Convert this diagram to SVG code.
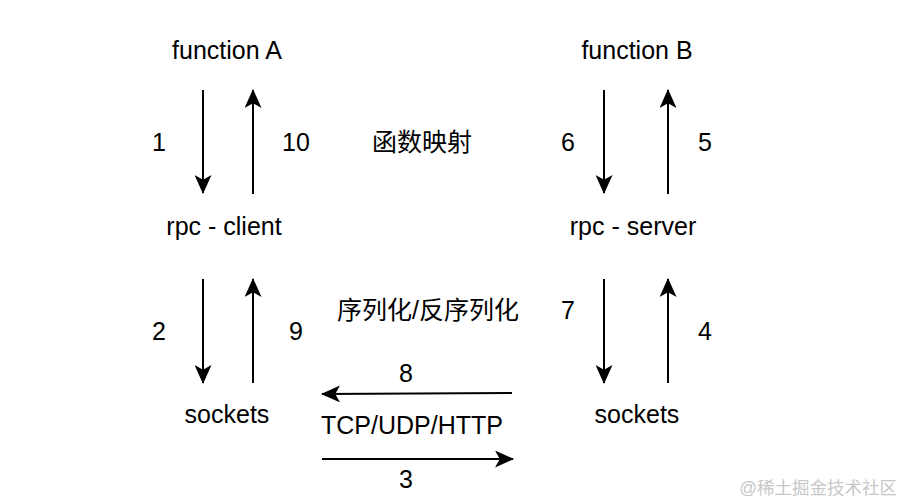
<svg xmlns="http://www.w3.org/2000/svg" width="903" height="504" viewBox="0 0 903 504">
<defs>
<style>
text{font-family:"Liberation Sans","Noto Sans CJK SC",Arial,sans-serif;font-size:25px;fill:#000;text-anchor:middle}
.wm{font-size:17.5px;fill:#c8c8c8;text-anchor:end}
.edge{stroke:#000;stroke-width:2;fill:none;marker-end:url(#arr)}
</style>
<marker id="arr" markerUnits="userSpaceOnUse" markerWidth="19" markerHeight="17" refX="18" refY="8.5" orient="auto" viewBox="0 0 19 17">
<path d="M0,0 L19,8.5 L0,17 L4.75,8.5 Z" fill="#000"/>
</marker>
</defs>
<rect width="903" height="504" fill="#fff"/>
<g id="functionA"><text x="227" y="59">function A</text></g>
<g id="functionB"><text x="637" y="59">function B</text></g>
<g id="rpcClient"><text x="224" y="235">rpc - client</text></g>
<g id="rpcServer"><text x="633" y="235">rpc - server</text></g>
<g id="socketsA"><text x="227" y="423">sockets</text></g>
<g id="socketsB"><text x="637" y="423">sockets</text></g>
<g id="connectors">
<line class="edge" x1="203" y1="90" x2="203" y2="193"/>
<line class="edge" x1="253" y1="194" x2="253" y2="90"/>
<line class="edge" x1="604" y1="90" x2="604" y2="193"/>
<line class="edge" x1="668" y1="194" x2="668" y2="90"/>
<line class="edge" x1="203" y1="279" x2="203" y2="383"/>
<line class="edge" x1="253" y1="383" x2="253" y2="279"/>
<line class="edge" x1="604" y1="279" x2="604" y2="383"/>
<line class="edge" x1="668" y1="383" x2="668" y2="279"/>
<line class="edge" x1="512" y1="393" x2="322" y2="394"/>
<line class="edge" x1="322" y1="459" x2="513" y2="459"/>
<text x="159" y="151">1</text>
<text x="296" y="151">10</text>
<text x="568" y="151">6</text>
<text x="705" y="151">5</text>
<text x="159" y="340">2</text>
<text x="296" y="340">9</text>
<text x="568" y="319">7</text>
<text x="705" y="340">4</text>
<text x="406" y="382">8</text>
<text x="406" y="488">3</text>
<text x="422" y="151">函数映射</text>
<text x="428" y="319">序列化/反序列化</text>
<text x="412" y="434">TCP/UDP/HTTP</text>
</g>
<text class="wm" x="897" y="494">@稀土掘金技术社区</text>
</svg>
